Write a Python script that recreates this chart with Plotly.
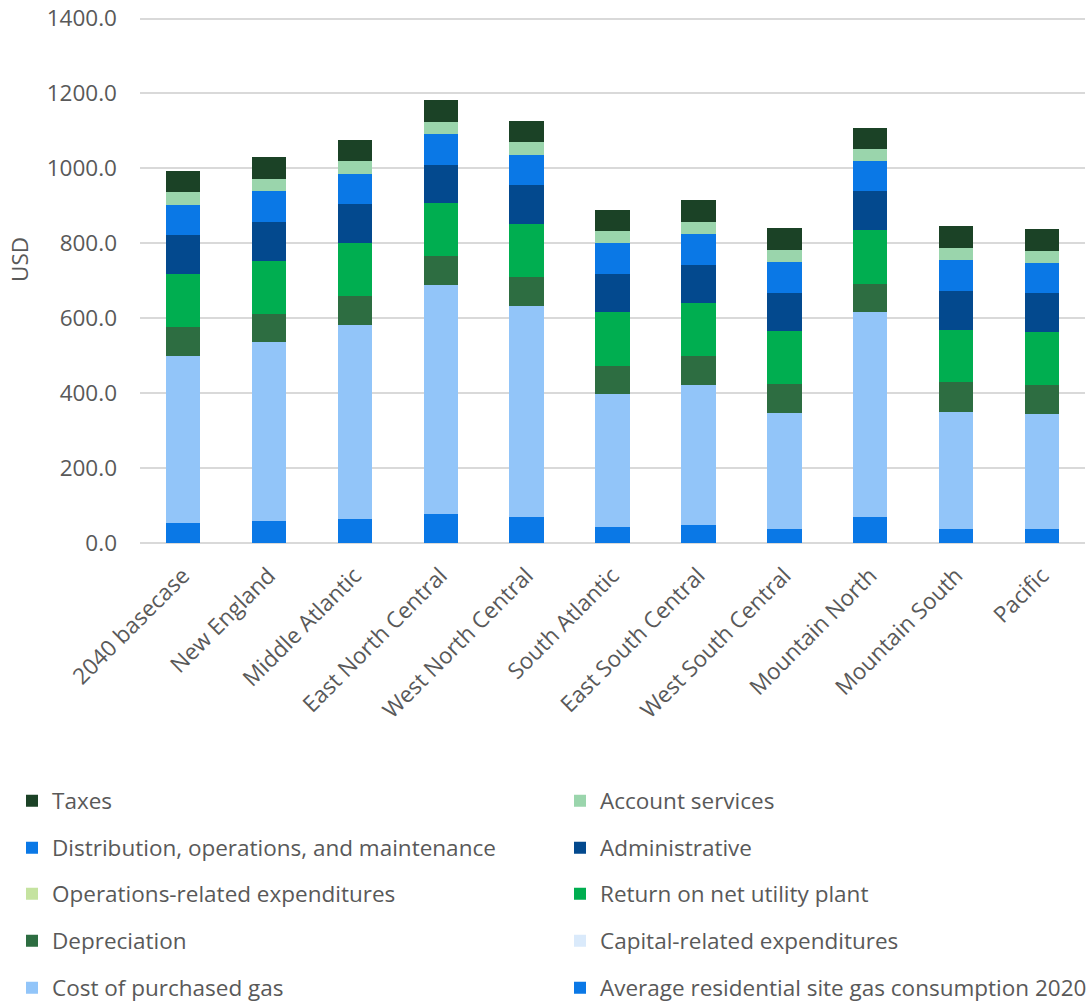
import plotly.graph_objects as go

# Regions (x-axis categories)
categories = [
    "2040 basecase", "New England", "Middle Atlantic", "East North Central",
    "West North Central", "South Atlantic", "East South Central",
    "West South Central", "Mountain North", "Mountain South", "Pacific",
]

# Annual residential gas bill components, USD
avg_site_consumption_2020 = [54.5, 58.9, 63.4, 76.8, 70.5, 43.8, 47.3, 37.5, 68.8, 38.4, 37.5]
cost_of_purchased_gas = [444.6, 477.7, 518.7, 611.6, 562.5, 352.7, 375.0, 310.7, 547.3, 312.5, 308.0]
capital_related = [0.0, 0.0, 0.0, 0.0, 0.0, 0.0, 0.0, 0.0, 0.0, 0.0, 0.0]
depreciation = [76.8, 75.9, 76.8, 77.7, 76.8, 76.8, 75.9, 75.0, 75.9, 77.7, 75.0]
return_on_plant = [142.0, 141.1, 141.1, 141.0, 142.0, 142.0, 142.0, 143.8, 142.8, 141.0, 142.9]
operations_related = [0.0, 0.0, 0.0, 0.0, 0.0, 0.0, 0.0, 0.0, 0.0, 0.0, 0.0]
administrative = [103.5, 103.5, 103.6, 102.7, 103.6, 102.7, 102.7, 100.9, 103.6, 102.7, 103.6]
distribution_om = [81.3, 81.3, 82.1, 81.2, 81.2, 82.1, 82.1, 82.1, 81.2, 82.2, 81.2]
account_services = [33.0, 33.0, 33.0, 34.0, 33.0, 33.0, 33.0, 33.0, 31.3, 33.0, 31.3]
taxes = [58.0, 58.1, 57.1, 57.1, 58.1, 56.3, 58.1, 58.1, 58.0, 58.0, 58.0]

y_ticks = [0, 200, 400, 600, 800, 1000, 1200, 1400]

# Stack order, bottom to top: (name, values, colour)
series = [
    ("Average residential site gas consumption 2020", avg_site_consumption_2020, "#0A78E6"),
    ("Cost of purchased gas", cost_of_purchased_gas, "#92C5F9"),
    ("Capital-related expenditures", capital_related, "#DAEAFB"),
    ("Depreciation", depreciation, "#2D6D41"),
    ("Return on net utility plant", return_on_plant, "#00AE50"),
    ("Operations-related expenditures", operations_related, "#C5E3A0"),
    ("Administrative", administrative, "#03498E"),
    ("Distribution, operations, and maintenance", distribution_om, "#0A78E6"),
    ("Account services", account_services, "#9AD5AC"),
    ("Taxes", taxes, "#1B4226"),
]

# Legend grid: two columns, five rows, filled from the top of the stack down
legend_order = [name for name, _, _ in series][::-1]
col_x = [12, 560]
row_y = [801, 848, 894, 941, 988]
W, H = 1091, 1002

FONT = "Open Sans"
GREY = "#595959"
FS = 22.5

fig = go.Figure()
legend_layouts = {}
for name, vals, color in series:
    idx = legend_order.index(name)
    key = "legend" if idx == 0 else f"legend{idx + 1}"
    fig.add_trace(go.Bar(
        name=name, x=categories, y=vals, legend=key,
        marker=dict(color=color, line=dict(width=0)),
        hovertemplate="%{x}<br>" + name + ": %{y:.1f}<extra></extra>",
    ))
    r, c = idx // 2, idx % 2
    legend_layouts[key] = dict(
        x=col_x[c] / W, y=1 - row_y[r] / H,
        xref="container", yref="container",
        xanchor="left", yanchor="middle",
        orientation="h", bgcolor="rgba(0,0,0,0)",
        font=dict(family=FONT, size=FS, color=GREY),
        itemwidth=30,
    )

fig.update_layout(
    width=W, height=H,
    barmode="stack", bargap=0.6,
    plot_bgcolor="white", paper_bgcolor="white",
    margin=dict(l=140, r=6, t=17, b=459, autoexpand=False),
    font=dict(family=FONT, size=FS, color=GREY),
    showlegend=True,
    **legend_layouts,
)

fig.update_yaxes(
    range=[0, 1404], tickvals=y_ticks, tickformat=".1f",
    showgrid=True, gridcolor="#D9D9D9", gridwidth=1.5,
    zeroline=True, zerolinecolor="#D9D9D9", zerolinewidth=1.5,
    showline=False, ticks="", ticklabelstandoff=22, automargin=False,
    tickfont=dict(family=FONT, size=FS, color=GREY),
)
fig.update_xaxes(
    tickangle=-45, showline=False, ticks="", showgrid=False,
    ticklabelstandoff=14, automargin=False,
    tickfont=dict(family=FONT, size=FS, color=GREY),
)

fig.add_annotation(
    text="USD", textangle=-90, showarrow=False,
    xref="paper", yref="paper", x=-0.127, y=0.54,
    xanchor="center", yanchor="middle",
    font=dict(family=FONT, size=FS, color=GREY),
)

fig.write_html("out.html")
